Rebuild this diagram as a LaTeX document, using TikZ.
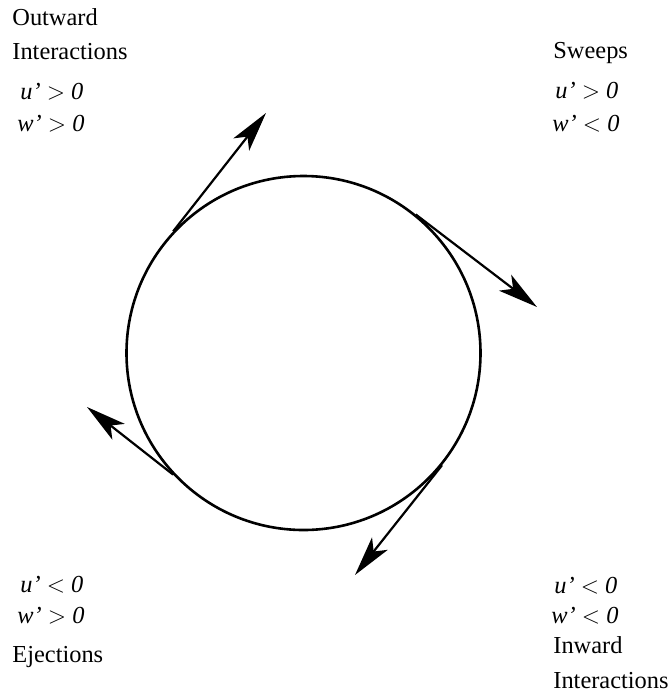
\documentclass[tikz,border=0pt]{standalone}
\usepackage{fontspec}
\setmainfont{Liberation Serif}
\usetikzlibrary{arrows.meta}
\begin{document}
\begin{tikzpicture}[x=0.5pt,y=-0.5pt,
  lbl/.style={anchor=base west,inner sep=0pt,font=\fontsize{12.2}{14}\selectfont},
  vel/.style={lbl,font=\fontsize{12.2}{14}\selectfont\itshape},
  vec/.style={line width=1.1pt,-{Stealth[length=20pt,width=10pt,inset=5pt]}}]
\useasboundingbox (0,0) rectangle (672,698);
\node[circle,draw,line width=1.3pt,minimum size=177pt,inner sep=0pt] (eddy) at (303.5,353) {};
% ends of the four vectors
\coordinate (tipOI) at (266,113);
\coordinate (tipSw) at (537,307);
\coordinate (tipII) at (355,575);
\coordinate (tipEj) at (87,407);
\draw[vec] (eddy.137.6) -- (tipOI);
\draw[vec] (eddy.51.5) -- (tipSw);
\draw[vec] (eddy.-39) -- (tipII);
\draw[vec] (eddy.223.5) -- (tipEj);
% quadrant labels
\node[lbl] (oi1) at (12,25) {Outward};
\node[lbl] (oi2) at (12,59) {Interactions};
\node[vel] (oiu) at (20,99) {u' $>$ 0};
\node[vel] (oiw) at (17,131) {w' $>$ 0};
\node[lbl] (sw) at (553,58) {Sweeps};
\node[vel] (swu) at (555,98) {u' $>$ 0};
\node[vel] (sww) at (552,131) {w' $<$ 0};
\node[vel] (eju) at (20,592) {u' $<$ 0};
\node[vel] (ejw) at (17,623) {w' $>$ 0};
\node[lbl] (ej) at (12,662) {Ejections};
\node[vel] (iiu) at (554,593) {u' $<$ 0};
\node[vel] (iiw) at (551,623) {w' $<$ 0};
\node[lbl] (ii1) at (553,653) {Inward};
\node[lbl] (ii2) at (553,688) {Interactions};
\end{tikzpicture}
\end{document}
